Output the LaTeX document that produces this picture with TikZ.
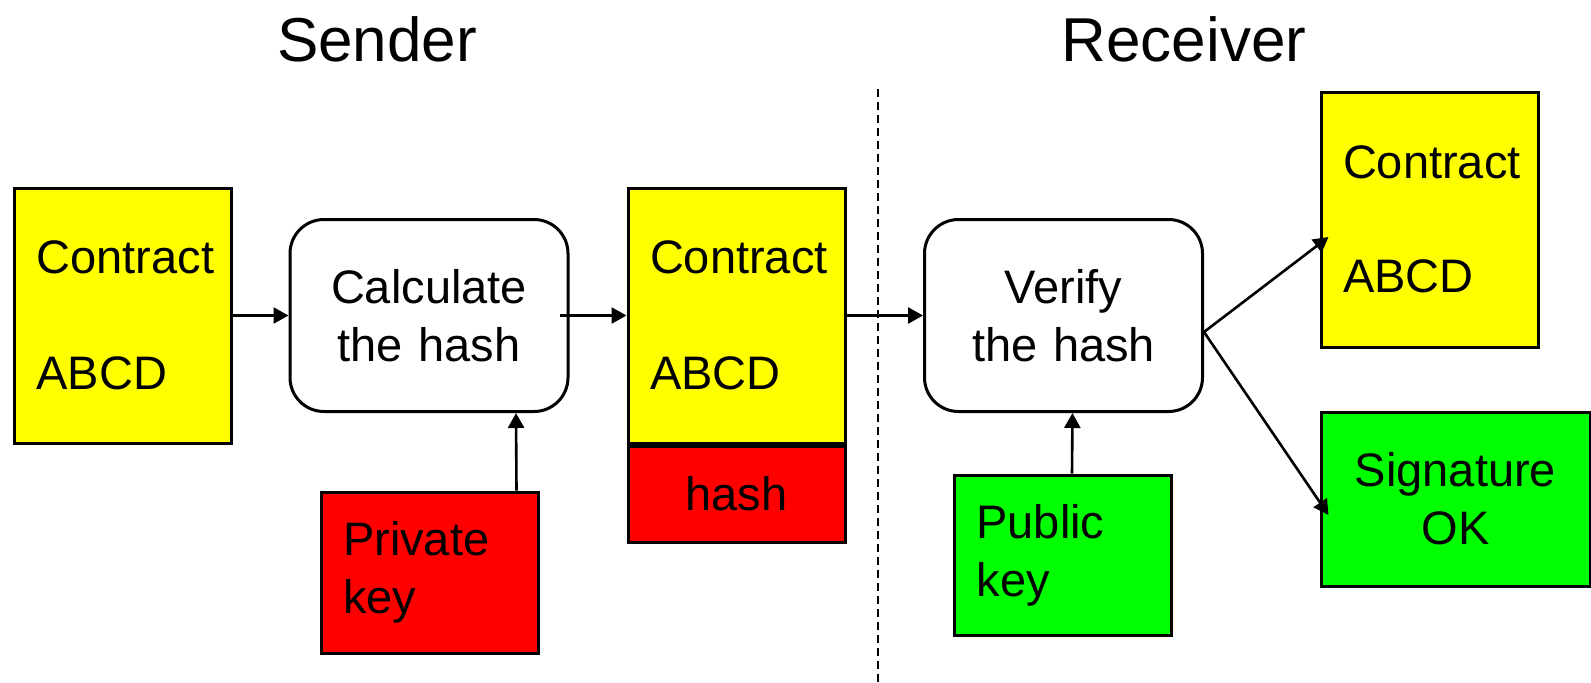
\documentclass[tikz,border=0pt]{standalone}
\usepackage{fontspec}
\setmainfont{Liberation Sans}
\usepackage{tikz}
\usetikzlibrary{
	arrows.meta,
	positioning}

\definecolor{docyellow}{RGB}{255,255,0}
\definecolor{keyred}{RGB}{255,0,0}
\definecolor{keygreen}{RGB}{0,255,0}

\begin{document}
\begin{tikzpicture}[x=0.5pt,y=-0.5pt,
  >={Triangle[length=7.5pt,width=8pt]},
  every path/.style={line width=1.3pt},
  every node/.style={font=\fontsize{23.5}{29}\selectfont},
  paper/.style={draw,line width=1.5pt,text width=86.5pt,inner xsep=11pt,align=left},
  step box/.style={draw,line width=1.5pt,rounded corners=17pt,fill=white,
    minimum width=139pt,minimum height=96pt,align=center,text width=120pt},
  title/.style={font=\fontsize{31}{37}\selectfont,anchor=base}]
  \useasboundingbox (0,0) rectangle (1591,682);

  % Sender
  \node[title] (sender) at (377,61) {Sender};
  \node[paper,fill=docyellow,minimum height=127.5pt] (doc) at (123,315.5) {Contract\\[29pt]ABCD};
  \node[step box] (calc) at (429,315.5) {Calculate\\the hash};
  \node[paper,fill=keyred,minimum height=80.5pt] (privkey) at (429.5,572.5) {Private\\key};
  \node[paper,fill=docyellow,minimum height=127.5pt] (signed) at (736.5,315.5) {Contract\\[29pt]ABCD};
  \node[draw,line width=1.5pt,fill=keyred,minimum width=108.5pt,minimum height=48pt,
    anchor=north] (hash) at (signed.south) {hash};

  % Receiver
  \node[title] (receiver) at (1184,61) {Receiver};
  \node[step box] (verify) at (1063.5,315.5) {Verify\\the hash};
  \node[paper,fill=keygreen,minimum height=80pt] (pubkey) at (1063,555) {Public\\key};
  \node[paper,fill=docyellow,minimum height=127.5pt] (received) at (1429.5,219.5) {Contract\\[28pt]ABCD};
  \node[draw,line width=1.5pt,fill=keygreen,minimum width=134.5pt,minimum height=87pt,
    align=center] (sigok) at (1455.5,499) {Signature\\OK};

  % border between the two sides
  \draw [line width=0.8pt,dash pattern=on 4pt off 2.5pt] (878,89) -- (878,682);

  \draw [<-] (calc)   to (doc);
  \draw [<-] (signed.west) to ([xshift=-5pt]calc.east);
  \draw [<-] ([xshift=43.5pt]calc.south) to ([xshift=43.5pt]privkey.north);
  \draw [<-] (verify.west) to (signed.east);
  \draw [<-] ([xshift=4.5pt]verify.south) to ([xshift=4.5pt]pubkey.north);
  \draw [<-] ([xshift=4.5pt,yshift=-8.75pt]received.west) to ([yshift=-8.25pt]verify.east);
  \draw [<-] ([xshift=4.5pt,yshift=-8pt]sigok.west) to ([yshift=-8.25pt]verify.east);
\end{tikzpicture}
\end{document}
